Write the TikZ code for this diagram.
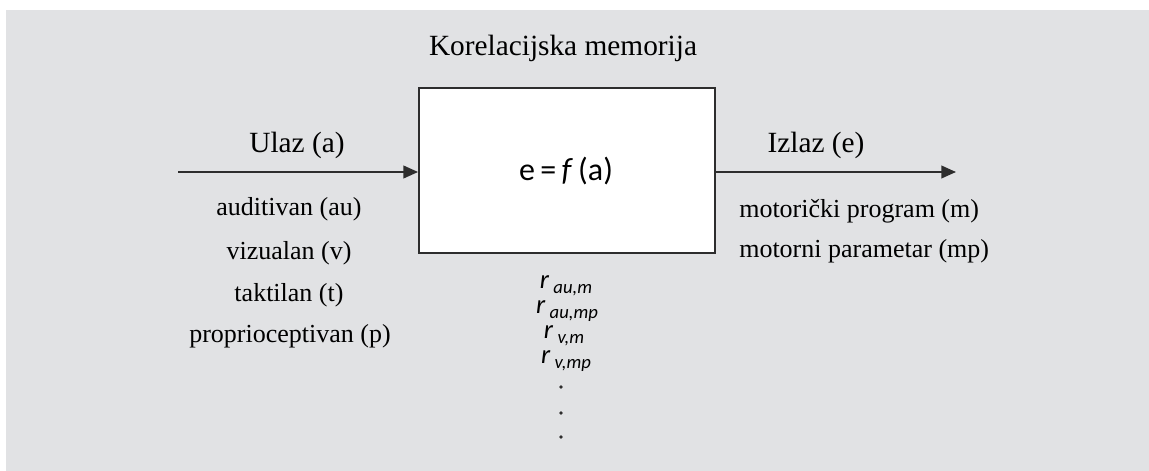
\documentclass[tikz,border=0pt]{standalone}
\usepackage{fontspec}
\setmainfont{Liberation Serif}
\newfontfamily\calibri{Carlito}
\usetikzlibrary{arrows.meta}
\definecolor{bggray}{RGB}{225,226,228}
\definecolor{linegray}{RGB}{45,45,45}
\newcommand{\corr}[1]{{\calibri\itshape\fontsize{20}{20}\selectfont r\,\raisebox{-0.4ex}{\fontsize{14}{14}\selectfont #1}}}
\tikzset{
  big/.style={font=\fontsize{22}{24}\selectfont, anchor=base, inner sep=0pt},
  small/.style={font=\fontsize{19.5}{22}\selectfont, anchor=base, inner sep=0pt},
  flow/.style={line width=1.4pt, linegray, -{Triangle[length=11pt,width=9.5pt]}}
}
\begin{document}
\begin{tikzpicture}[x=0.75pt,y=-0.75pt]
\useasboundingbox (0,0) rectangle (1149,471);
\fill[bggray] (6,10) rectangle (1149,471); %background

\node[draw=linegray, line width=1.4pt, fill=white, minimum width=222pt, minimum height=123.75pt, inner sep=0pt] (mem) at (567,170.5) {}; %box
\node[anchor=base, inner sep=0pt, font=\calibri\fontsize{24}{26}\selectfont] (func) at (566,180) {e\,=\,\textit{f}\,(a)};
\node[big] (title) at (563,55) {Korelacijska memorija};

\coordinate (in) at (178,172);
\coordinate (out) at (956,172);
\draw[flow] (in) -- (mem.west |- in); %input
\draw[flow] (mem.east |- out) -- (out); %output

\node[big] (ulaz) at (297,152) {Ulaz (a)};
\node[big] (izlaz) at (816,152) {Izlaz (e)};

\node[small] (au) at (289,215) {auditivan (au)};
\node[small] (v) at (289,259) {vizualan (v)};
\node[small] (t) at (289,301) {taktilan (t)};
\node[small] (p) at (290,342) {proprioceptivan (p)};

\node[small, anchor=base west] (m) at (739,217) {motorički program (m)};
\node[small, anchor=base west] (mp) at (739,257) {motorni parametar (mp)};

\node[anchor=base, inner sep=0pt] (raum) at (566,288) {\corr{au,m}};
\node[anchor=base, inner sep=0pt] (raump) at (567,313) {\corr{au,mp}};
\node[anchor=base, inner sep=0pt] (rvm) at (564,338) {\corr{v,m}};
\node[anchor=base, inner sep=0pt] (rvmp) at (566,363) {\corr{v,mp}};

\fill[linegray] (561,387) circle (1.8) (561,413) circle (1.8) (561,437) circle (1.8); %dots
\end{tikzpicture}
\end{document}
